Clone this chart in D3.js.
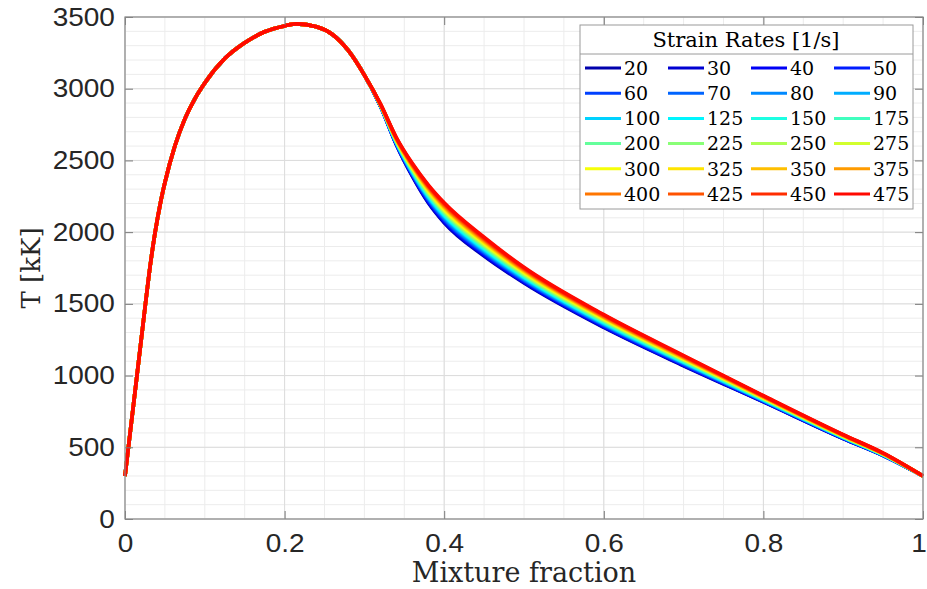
<!DOCTYPE html>
<html>
<head>
<meta charset="utf-8">
<script src="https://cdn.jsdelivr.net/npm/d3@7"></script>
<style>
  body { margin: 0; background: #fff; }
  .tick text { fill: #262626; }
</style>
</head>
<body>
<div id="chart"></div>
<script>
// Strain rates shown in the legend, one curve each
const strainRates = [20, 30, 40, 50, 60, 70, 80, 90, 100, 125, 150, 175,
  200, 225, 250, 275, 300, 325, 350, 375, 400, 425, 450, 475];

// Part of the flame where every curve lies on top of the others
const zShared = [0, 0.015, 0.025, 0.03, 0.0375, 0.045, 0.05, 0.0625, 0.075, 0.0875, 0.1, 0.125,
  0.15, 0.175, 0.2, 0.215, 0.24, 0.26, 0.28, 0.30];
const tShared = [300, 1000, 1470, 1700, 1990, 2220, 2345, 2600, 2790, 2930, 3040, 3210,
  3320, 3397, 3438, 3452, 3432, 3378, 3265, 3095];

// Rich side, where the curves split up by strain rate
const zSplit = [0.32, 0.34, 0.36, 0.38, 0.40, 0.45, 0.50, 0.60, 0.70, 0.80, 0.90, 0.95];
const tSplit = [
  [2880, 2610, 2390, 2205, 2065, 1833, 1645, 1335, 1068, 816, 560, 442], // 20
  [2881, 2612, 2394, 2210, 2071, 1839, 1650, 1339, 1071, 818, 561, 443], // 30
  [2881, 2614, 2398, 2216, 2077, 1844, 1655, 1343, 1074, 820, 562, 444], // 40
  [2882, 2617, 2402, 2221, 2083, 1850, 1659, 1347, 1077, 822, 564, 444], // 50
  [2883, 2619, 2406, 2227, 2089, 1856, 1664, 1351, 1081, 824, 565, 445], // 60
  [2883, 2621, 2410, 2232, 2095, 1862, 1669, 1355, 1084, 826, 566, 446], // 70
  [2884, 2623, 2413, 2238, 2102, 1867, 1674, 1358, 1087, 827, 567, 447], // 80
  [2885, 2625, 2417, 2243, 2108, 1873, 1678, 1362, 1090, 829, 569, 447], // 90
  [2885, 2627, 2421, 2248, 2114, 1879, 1683, 1366, 1093, 831, 570, 448], // 100
  [2886, 2630, 2425, 2254, 2120, 1885, 1688, 1370, 1096, 833, 571, 449], // 125
  [2887, 2632, 2429, 2259, 2126, 1890, 1693, 1374, 1099, 835, 572, 450], // 150
  [2887, 2634, 2433, 2265, 2132, 1896, 1698, 1378, 1102, 837, 573, 451], // 175
  [2888, 2636, 2437, 2270, 2138, 1902, 1702, 1382, 1106, 839, 575, 451], // 200
  [2888, 2638, 2441, 2276, 2144, 1908, 1707, 1386, 1109, 841, 576, 452], // 225
  [2889, 2640, 2445, 2281, 2150, 1913, 1712, 1390, 1112, 843, 577, 453], // 250
  [2890, 2643, 2449, 2287, 2156, 1919, 1717, 1394, 1115, 845, 578, 454], // 275
  [2890, 2645, 2453, 2292, 2162, 1925, 1722, 1398, 1118, 847, 579, 455], // 300
  [2891, 2647, 2457, 2297, 2168, 1931, 1726, 1402, 1121, 849, 581, 455], // 325
  [2892, 2649, 2460, 2303, 2175, 1936, 1731, 1405, 1124, 850, 582, 456], // 350
  [2892, 2651, 2464, 2308, 2181, 1942, 1736, 1409, 1127, 852, 583, 457], // 375
  [2893, 2653, 2468, 2314, 2187, 1948, 1741, 1413, 1131, 854, 584, 458], // 400
  [2894, 2656, 2472, 2319, 2193, 1954, 1745, 1417, 1134, 856, 586, 458], // 425
  [2894, 2658, 2476, 2325, 2199, 1959, 1750, 1421, 1137, 858, 587, 459], // 450
  [2895, 2660, 2480, 2330, 2205, 1965, 1755, 1425, 1140, 860, 588, 460]  // 475
];

// Oxidizer end, all curves meet again
const zTail = [1.0];
const tTail = [300];

const xTicks = [0, 0.2, 0.4, 0.6, 0.8, 1];
const yTicks = [0, 500, 1000, 1500, 2000, 2500, 3000, 3500];

const margin = { top: 17, right: 4, bottom: 70, left: 125 };
const width = 927 - margin.left - margin.right;
const height = 589 - margin.top - margin.bottom;

// jet colormap, the one the original figure uses
function jet(t) {
  const c = v => Math.round(255 * Math.max(0, Math.min(1, v)));
  return `rgb(${c(1.5 - Math.abs(4 * t - 3))},${c(1.5 - Math.abs(4 * t - 2))},${c(1.5 - Math.abs(4 * t - 1))})`;
}
const colors = strainRates.map((d, i) => jet(0.045 + i * 0.0357));

const svg = d3.select('#chart')
  .append('svg')
  .attr('width', 927)
  .attr('height', 589);

const g = svg.append('g')
  .attr('transform', `translate(${margin.left},${margin.top})`);

const xScale = d3.scaleLinear().domain([0, 1]).range([0, width]);
const yScale = d3.scaleLinear().domain([0, 3500]).range([height, 0]);

// Minor grid
g.append('g')
  .selectAll('line')
  .data(d3.range(0, 1.0001, 0.05))
  .join('line')
  .attr('x1', d => xScale(d)).attr('x2', d => xScale(d))
  .attr('y1', 0).attr('y2', height)
  .attr('stroke', '#ececec');

g.append('g')
  .selectAll('line')
  .data(d3.range(0, 3501, 100))
  .join('line')
  .attr('x1', 0).attr('x2', width)
  .attr('y1', d => yScale(d)).attr('y2', d => yScale(d))
  .attr('stroke', '#ececec');

// Major grid
g.append('g')
  .selectAll('line')
  .data(xTicks)
  .join('line')
  .attr('x1', d => xScale(d)).attr('x2', d => xScale(d))
  .attr('y1', 0).attr('y2', height)
  .attr('stroke', '#dcdcdc');

g.append('g')
  .selectAll('line')
  .data(yTicks)
  .join('line')
  .attr('x1', 0).attr('x2', width)
  .attr('y1', d => yScale(d)).attr('y2', d => yScale(d))
  .attr('stroke', '#dcdcdc');

// Curves, lowest strain rate first so the red one ends on top
const line = d3.line()
  .x(d => xScale(d[0]))
  .y(d => yScale(d[1]))
  .curve(d3.curveMonotoneX);

strainRates.forEach((rate, i) => {
  const z = zShared.concat(zSplit, zTail);
  const t = tShared.concat(tSplit[i], tTail);
  g.append('path')
    .datum(z.map((zz, k) => [zz, t[k]]))
    .attr('fill', 'none')
    .attr('stroke', colors[i])
    .attr('stroke-width', 3.6)
    .attr('stroke-linejoin', 'round')
    .attr('d', line);
});

// Axes with ticks pointing inward, on all four sides
const xAxis = g.append('g')
  .attr('transform', `translate(0,${height})`)
  .call(d3.axisBottom(xScale).tickValues(xTicks).tickSize(-8).tickPadding(15)
    .tickFormat(d3.format('')));

const yAxis = g.append('g')
  .call(d3.axisLeft(yScale).tickValues(yTicks).tickSize(-8).tickPadding(9)
    .tickFormat(d3.format('d')));

const xTop = g.append('g')
  .call(d3.axisTop(xScale).tickValues(xTicks).tickSize(-8).tickFormat(''));

const yRight = g.append('g')
  .attr('transform', `translate(${width},0)`)
  .call(d3.axisRight(yScale).tickValues(yTicks).tickSize(-8).tickFormat(''));

[xAxis, yAxis, xTop, yRight].forEach(a => {
  a.select('.domain').remove();
  a.selectAll('.tick line').attr('stroke', '#7a7a7a');
  a.selectAll('.tick text')
    .attr('transform', 'scale(1.12,1)')
    .style('font-family', 'Liberation Sans, Arial, sans-serif')
    .style('font-size', '25px');
});

// keep the last x label ("1") inside the page edge
xAxis.selectAll('.tick text')
  .filter(d => d === 1)
  .attr('text-anchor', 'end')
  .attr('x', 3);

// Axes box
g.append('rect')
  .attr('width', width)
  .attr('height', height)
  .attr('fill', 'none')
  .attr('stroke', '#8a8a8a')
  .attr('stroke-width', 1.2);

// Axis labels
const serif = 'DejaVu Serif, serif';

svg.append('text')
  .attr('x', margin.left + width / 2)
  .attr('y', 582)
  .attr('text-anchor', 'middle')
  .style('font-family', serif)
  .style('font-size', '27px')
  .style('fill', '#262626')
  .text('Mixture fraction');

svg.append('text')
  .attr('transform', `translate(40,${margin.top + height / 2}) rotate(-90)`)
  .attr('text-anchor', 'middle')
  .style('font-family', serif)
  .style('font-size', '26px')
  .style('fill', '#262626')
  .text('T [kK]');

// Legend
const legend = svg.append('g')
  .attr('transform', 'translate(580,25)');

legend.append('rect')
  .attr('width', 333)
  .attr('height', 184)
  .attr('fill', '#fff')
  .attr('stroke', '#9a9a9a')
  .attr('stroke-width', 1);

legend.append('line')
  .attr('x1', 0).attr('x2', 333)
  .attr('y1', 29).attr('y2', 29)
  .attr('stroke', '#9a9a9a');

legend.append('text')
  .attr('x', 166)
  .attr('y', 22)
  .attr('text-anchor', 'middle')
  .style('font-family', serif)
  .style('font-size', '21px')
  .text('Strain Rates [1/s]');

const items = legend.selectAll('.item')
  .data(strainRates)
  .join('g')
  .attr('class', 'item')
  .attr('transform', (d, i) => `translate(${5 + (i % 4) * 83},${43 + Math.floor(i / 4) * 25.2})`);

items.append('line')
  .attr('x1', 0).attr('x2', 36)
  .attr('stroke', (d, i) => colors[i])
  .attr('stroke-width', 3);

items.append('text')
  .attr('x', 39)
  .attr('dy', '0.36em')
  .style('font-family', serif)
  .style('font-size', '19px')
  .text(d => d);
</script>
</body>
</html>
